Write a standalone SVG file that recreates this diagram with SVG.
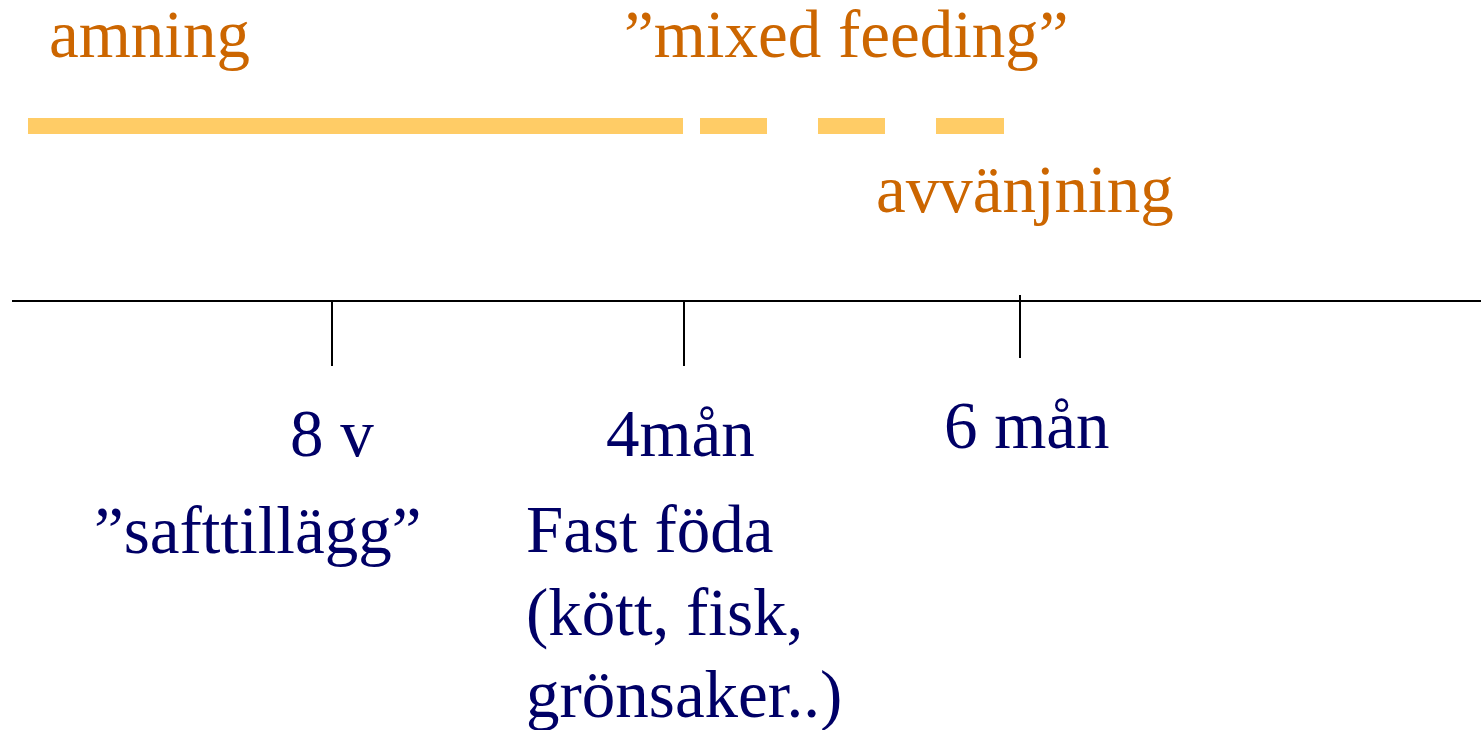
<svg xmlns="http://www.w3.org/2000/svg" width="1481" height="730" viewBox="0 0 1481 730">
<style>
.o{font-family:"Liberation Serif","Times New Roman",serif;font-size:67px;fill:#CC6600}
.b{font-family:"Liberation Serif","Times New Roman",serif;font-size:67px;fill:#000066}
.bar{fill:#FFCC66}
.ax{stroke:#000;stroke-width:2;fill:none}
</style>
<rect width="1481" height="730" fill="#fff"/>
<g id="bars">
<rect class="bar" x="28" y="118" width="655" height="16"/>
<rect class="bar" x="700" y="118" width="67" height="16"/>
<rect class="bar" x="818" y="118" width="67" height="16"/>
<rect class="bar" x="936" y="118" width="68" height="16"/>
</g>
<g id="axis">
<line class="ax" x1="12" y1="301" x2="1481" y2="301"/>
<line class="ax" x1="332" y1="301" x2="332" y2="366"/>
<line class="ax" x1="684" y1="301" x2="684" y2="366"/>
<line class="ax" x1="1020" y1="295" x2="1020" y2="358"/>
</g>
<g id="labels">
<text class="o" x="49" y="57">amning</text>
<text class="o" x="624" y="57">”mixed feeding”</text>
<text class="o" x="876" y="212">avvänjning</text>
<text class="b" x="290" y="456">8 v</text>
<text class="b" x="606" y="456">4mån</text>
<text class="b" x="944" y="448">6 mån</text>
<text class="b" x="94" y="553">”safttillägg”</text>
<text class="b" x="526" y="552">Fast föda</text>
<text class="b" x="526" y="635">(kött, fisk,</text>
<text class="b" x="526" y="717">grönsaker..)</text>
</g>
</svg>
